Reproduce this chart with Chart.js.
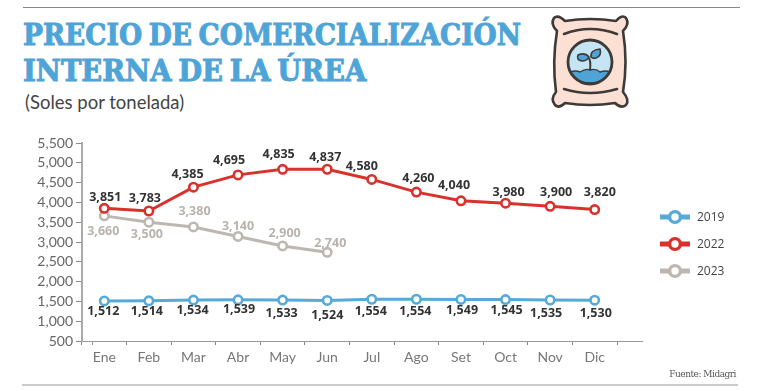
<!DOCTYPE html>
<html lang="es">
<head>
<meta charset="utf-8">
<title>Precio de comercialización interna de la úrea</title>
<script src="https://cdn.jsdelivr.net/npm/chart.js@4/dist/chart.umd.min.js"></script>
<style>
    html, body { margin: 0; padding: 0; background: #fff; }
    #page { position: relative; width: 760px; height: 391px; overflow: hidden; }
    #page canvas { position: absolute; left: 0; top: 0; }
    .rule { position: absolute; }
    #title {
        position: absolute; left: 23px; top: 17px; margin: 0;
        font: 900 30px/36px "DejaVu Serif", serif; color: #4fa4d7;
        white-space: nowrap; word-spacing: -3px;
        -webkit-text-stroke: 1px #4fa4d7;
    }
    #title span { display: block; transform-origin: left top; }
    #subtitle { position: absolute; left: 25px; top: 91px; font: 18.5px "Lato", sans-serif; color: #444; }
    #source { position: absolute; right: 24px; top: 369px; font: 9px "DejaVu Serif", serif; color: #555; letter-spacing: -0.5px; }
    #legend { position: absolute; left: 660px; top: 203px; }
    .legend-item { display: flex; align-items: center; height: 27px; font: 12px "Open Sans", sans-serif; color: #444; }
    .legend-item svg { margin-right: 7px; }
    #icon { position: absolute; left: 540px; top: 5px; }
</style>
</head>
<body>
<div id="page">
    <div class="rule" style="left:23px;top:7px;width:717px;height:1px;background:#888"></div>
    <div class="rule" style="left:22px;top:384px;width:716px;height:2px;background:#ccc"></div>
    <h1 id="title"><span style="transform:scaleX(0.886)">PRECIO DE COMERCIALIZACIÓN</span><span style="transform:scaleX(0.915)">INTERNA DE LA ÚREA</span></h1>
    <div id="subtitle">(Soles por tonelada)</div>
    <svg id="icon" width="100" height="110" viewBox="540 5 100 110">
        <path d="M565 21 Q590 17 616 21 Q622 14 626 18 Q630 24 623 31 Q628 62 623 92 Q630 100 626 105 Q621 109 615 103 Q590 107 565 103 Q559 109 555 105 Q550 99 556 92 Q552 62 557 31 Q550 24 554 18 Q558 14 565 21 Z" fill="#fde0d4" stroke="#3e3a38" stroke-width="2.6" stroke-linejoin="round"/>
        <path d="M564 34 Q590 24 617 34 M564 89 Q590 97 617 89" fill="none" stroke="#3e3a38" stroke-width="2.6" stroke-linecap="round"/>
        <circle cx="590" cy="62" r="22" fill="#c6e5f4"/>
        <path d="M570 72 Q576 70 580 72 Q586 68 590 70 Q596 68 600 72 Q606 70 610 72 Q604 83 590 83 Q576 83 570 72 Z" fill="#4fa4d7" stroke="#3e3a38" stroke-width="1.4"/>
        <path d="M590 70 Q591 62 589 58" fill="none" stroke="#3e3a38" stroke-width="2"/>
        <path d="M589 57 Q585 52 578 55 Q576 60 582 61 Q587 61 589 57 Z M591 57 Q590 50 600 49 Q602 56 596 58 Q593 59 591 57 Z" fill="#4fa4d7" stroke="#3e3a38" stroke-width="1.6"/>
        <circle cx="590" cy="62" r="22" fill="none" stroke="#3e3a38" stroke-width="2.8"/>
    </svg>
    <canvas id="chart" width="760" height="391"></canvas>
    <div id="legend"></div>
    <div id="source">Fuente: Midagri</div>
</div>

<script>
const months = ['Ene', 'Feb', 'Mar', 'Abr', 'May', 'Jun', 'Jul', 'Ago', 'Set', 'Oct', 'Nov', 'Dic'];
const values2019 = [1512, 1514, 1534, 1539, 1533, 1524, 1554, 1554, 1549, 1545, 1535, 1530];
const values2022 = [3851, 3783, 4385, 4695, 4835, 4837, 4580, 4260, 4040, 3980, 3900, 3820];
const values2023 = [3660, 3500, 3380, 3140, 2900, 2740];

const colors = { 2019: '#57a9d8', 2022: '#d9322c', 2023: '#bdb7b1' };

// where each value label sits relative to its point, hand placed like the original
const offsets2019 = [[-1, 11], [-2, 11], [-1, 10], [1, 10], [-1, 13], [0, 15], [-1, 12], [-1, 12], [1, 11], [1, 11], [-4, 13], [1, 13]];
const offsets2022 = [[1, -11], [-4, -13], [-6, -13], [-9, -14], [-4, -15], [-2, -12], [-10, -13], [2, -14], [-7, -15], [3, -11], [6, -14], [5, -17]];
const offsets2023 = [[-1, 16], [-2, 12], [1, -16], [0, -10], [2, -13], [3, -9]];

function lineDataset(label, data, offsets, labelColor) {
    return {
        label,
        data,
        offsets,
        labelColor,
        borderColor: colors[label],
        borderWidth: 3,
        pointBorderColor: colors[label],
        pointBackgroundColor: '#fff',
        pointBorderWidth: 2.6,
        pointRadius: 4.2,
        tension: 0
    };
}

const valueLabels = {
    id: 'valueLabels',
    afterDatasetsDraw(chart) {
        const ctx = chart.ctx;
        ctx.save();
        ctx.font = '700 12.5px "Open Sans", sans-serif';
        ctx.textAlign = 'center';
        ctx.textBaseline = 'middle';
        chart.data.datasets.forEach((ds, i) => {
            chart.getDatasetMeta(i).data.forEach((pt, j) => {
                ctx.fillStyle = ds.labelColor;
                ctx.fillText(ds.data[j].toLocaleString('en-US'), pt.x + ds.offsets[j][0], pt.y + ds.offsets[j][1]);
            });
        });
        ctx.restore();
    }
};

// the baseline runs on past December and has one stray tick near the origin
const axisExtras = {
    id: 'axisExtras',
    afterDraw(chart) {
        const { ctx, chartArea } = chart;
        ctx.save();
        ctx.strokeStyle = '#999';
        ctx.lineWidth = 1;
        ctx.beginPath();
        ctx.moveTo(chartArea.right, chartArea.bottom + 0.5);
        ctx.lineTo(chartArea.right + 26, chartArea.bottom + 0.5);
        ctx.moveTo(chartArea.left + 10.5, chartArea.bottom);
        ctx.lineTo(chartArea.left + 10.5, chartArea.bottom + 4);
        ctx.stroke();
        ctx.restore();
    }
};

new Chart(document.getElementById('chart').getContext('2d'), {
    type: 'line',
    data: {
        labels: months,
        datasets: [
            lineDataset('2019', values2019, offsets2019, '#333'),
            lineDataset('2022', values2022, offsets2022, '#333'),
            lineDataset('2023', values2023, offsets2023, '#b9b3ad')
        ]
    },
    options: {
        responsive: false,
        animation: false,
        layout: { padding: { top: 143, right: 143, bottom: 0, left: 0 } },
        plugins: {
            legend: { display: false },
            tooltip: { enabled: false }
        },
        scales: {
            x: {
                offset: true,
                afterFit: scale => { scale.height = 50; },
                border: { color: '#999', width: 1 },
                grid: { drawOnChartArea: false, drawTicks: true, tickLength: 4, color: '#888', offset: true },
                ticks: { color: '#777', font: { family: 'Lato', size: 14 }, padding: 4, maxRotation: 0 }
            },
            y: {
                min: 500,
                max: 5500,
                afterFit: scale => { scale.width = 82; },
                border: { color: '#aaa', width: 2 },
                grid: { drawOnChartArea: false, drawTicks: true, tickLength: 6, color: '#888' },
                ticks: {
                    stepSize: 500,
                    color: '#666',
                    font: { family: 'Lato', size: 14 },
                    padding: 3,
                    callback: value => value.toLocaleString('en-US')
                }
            }
        }
    },
    plugins: [valueLabels, axisExtras]
});

// legend swatches: thick bar with a ring on it
const legend = document.getElementById('legend');
['2019', '2022', '2023'].forEach(year => {
    const item = document.createElement('div');
    item.className = 'legend-item';
    item.innerHTML = `<svg width="30" height="16"><line x1="0" y1="8" x2="30" y2="8" stroke="${colors[year]}" stroke-width="5"/><circle cx="15" cy="8" r="5.4" fill="#fff" stroke="${colors[year]}" stroke-width="3.4"/></svg>${year}`;
    legend.appendChild(item);
});
</script>
</body>
</html>
